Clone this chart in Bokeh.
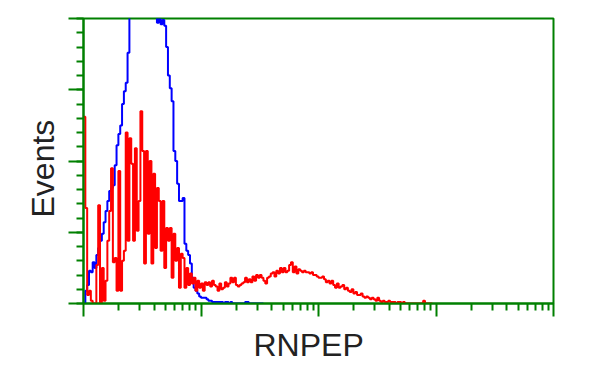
import math
from bokeh.plotting import figure
from bokeh.models import Range1d, FixedTicker, CustomJSTickFormatter, Title
from bokeh.embed import file_html
from bokeh.resources import INLINE

# ---- data (channel index on a 4-decade log scale, 64 channels per decade) ----
decade_ticks = [0, 64, 128, 192, 256]
y_major = [0, 50, 100, 150, 200]
x_title = "RNPEP"
y_title = "Events"

red_counts = [
    131, 67, 6, 9, 2, 0, 0, 27, 69, 0,
    25, 2, 16, 44, 65, 95, 29, 32, 9, 93,
    9, 30, 37, 120, 44, 116, 98, 44, 109, 51,
    72, 135, 107, 28, 107, 49, 100, 28, 91, 39,
    81, 72, 37, 72, 25, 53, 44, 53, 18, 49,
    30, 39, 11, 35, 32, 11, 25, 13, 21, 14,
    18, 9, 16, 11, 14, 9, 15, 13, 15, 12,
    16, 13, 12, 9, 14, 10, 11, 15, 12, 14,
    18, 15, 18, 13, 12, 13, 14, 15, 18, 15,
    17, 15, 19, 16, 20, 18, 20, 18, 16, 14,
    18, 19, 21, 22, 19, 23, 21, 25, 22, 25,
    22, 23, 27, 29, 22, 26, 21, 24, 23, 22,
    23, 22, 22, 21, 22, 20, 20, 19, 18, 18,
    19, 17, 15, 16, 14, 16, 13, 11, 14, 11,
    12, 13, 10, 11, 9, 8, 10, 7, 8, 6,
    6, 7, 5, 4, 5, 4, 3, 4, 3, 2,
    4, 2, 1, 2, 1, 1, 2, 1, 1, 1,
    0, 1, 1, 0, 1, 0, 0, 0, 0, 0,
    0, 0, 0, 0, 0, 2, 0, 0, 0, 0, 0,
]
red_channels = list(range(len(red_counts)))

blue_counts = [
    0, 9, 13, 23, 22, 29, 25, 34, 39, 44,
    49, 57, 65, 72, 79, 81, 83, 97, 111, 119,
    125, 140, 149, 155, 176, 202, 215, 228, 236, 240,
    246, 250, 248, 244, 238, 230, 222, 214, 206, 204,
    197, 200, 196, 199, 195, 180, 160, 151, 142, 107,
    100, 84, 72, 72, 74, 42, 37, 34, 28, 18,
    11, 9, 7, 5, 4, 4, 4, 3, 2, 2,
    1, 1, 1, 1, 1, 1, 0, 1, 1, 0,
    1, 0, 0, 0, 0, 0, 0, 0, 1, 1,
    0, 0, 0, 0, 0, 0, 0, 0, 0,
]
blue_channels = list(range(len(blue_counts)))

GREEN = "#008000"

p = figure(width=600, height=375, output_backend="svg", toolbar_location=None,
           x_range=Range1d(0, 256), y_range=Range1d(0, 200),
           min_border_left=83, min_border_right=47, min_border_top=18,
           min_border_bottom=72)
p.background_fill_color = "white"
p.border_fill_color = "white"
p.outline_line_color = GREEN
p.outline_line_width = 2
p.xgrid.visible = False
p.ygrid.visible = False

p.step(blue_channels, blue_counts, mode="after", line_color="#0000ff", line_width=2)
p.step(red_channels, red_counts, mode="after", line_color="#ff0000", line_width=2)

minor_x = [d * 64 + 64 * math.log10(k) for d in range(4) for k in range(2, 10)]
p.xaxis.ticker = FixedTicker(ticks=decade_ticks, minor_ticks=minor_x)
p.yaxis.ticker = FixedTicker(ticks=y_major, minor_ticks=list(range(0, 201, 10)))

blank = CustomJSTickFormatter(code="return ''")
for ax, mo, mi in ((p.xaxis, 13, 7), (p.yaxis, 15, 7)):
    ax.formatter = blank
    ax.major_label_standoff = 0
    ax.axis_line_color = GREEN
    ax.axis_line_width = 2
    ax.major_tick_line_color = GREEN
    ax.minor_tick_line_color = GREEN
    ax.major_tick_line_width = 2
    ax.minor_tick_line_width = 2
    ax.major_tick_out = mo
    ax.major_tick_in = 0
    ax.minor_tick_out = mi
    ax.minor_tick_in = 0

style = dict(text_font="Liberation Sans", text_font_size="32px",
             text_font_style="normal", text_color="#222222", align="left")
p.add_layout(Title(text=x_title, offset=170, vertical_align="top", standoff=20, **style), "below")
p.add_layout(Title(text=y_title, offset=86, vertical_align="bottom", standoff=16, **style), "left")

open("out.html", "w").write(file_html(p, INLINE))
